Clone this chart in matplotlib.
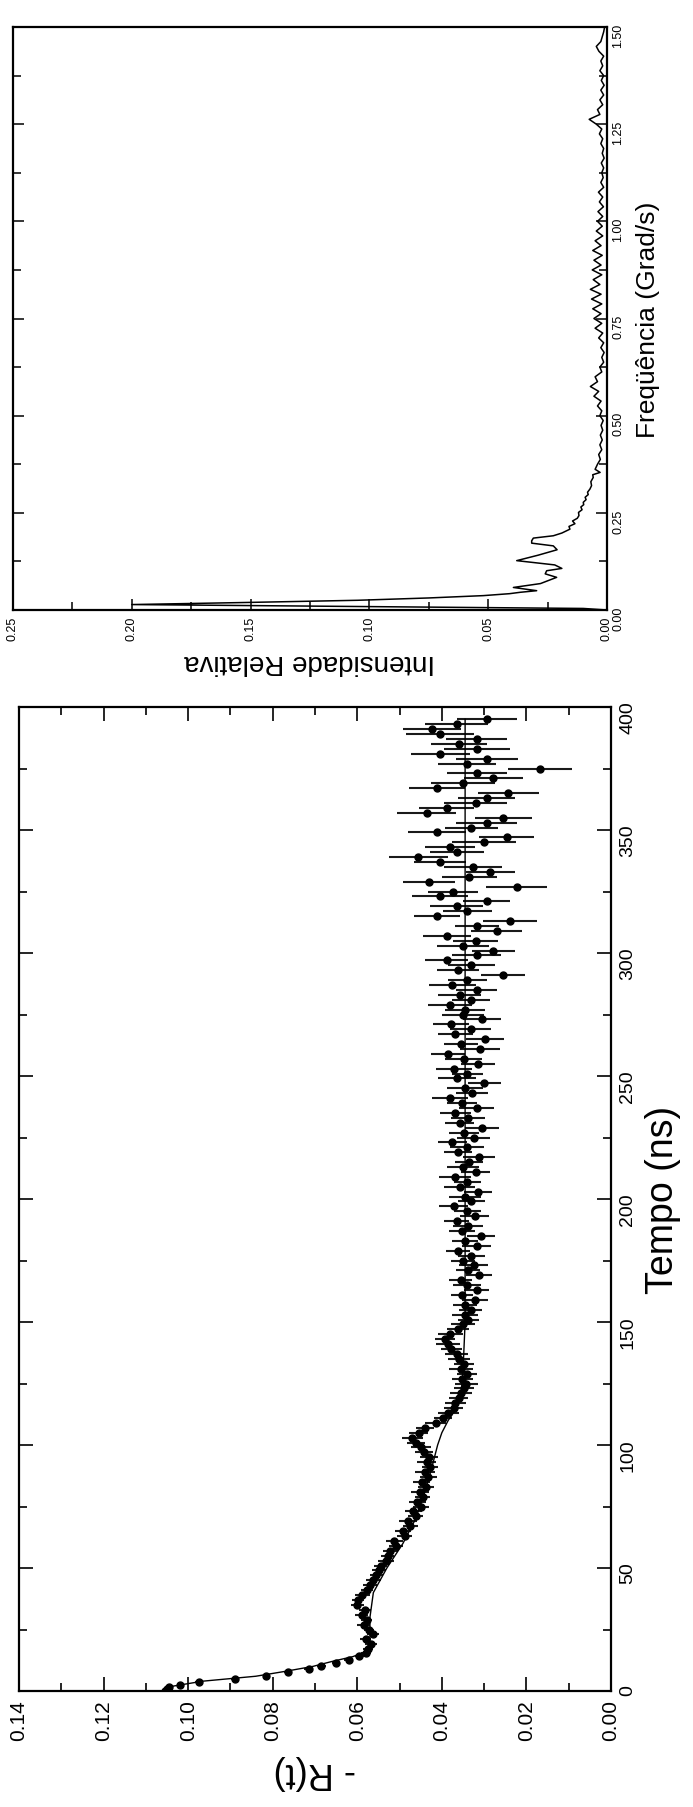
import matplotlib
matplotlib.use('Agg')
from matplotlib import pyplot as plt
from matplotlib.ticker import MultipleLocator, FormatStrFormatter

plt.rcParams['font.family'] = ['Liberation Sans', 'DejaVu Sans']

# espectro (Intensidade Relativa x Frequencia)
freq = [0.0, 0.004, 0.014, 0.019, 0.025, 0.031, 0.037, 0.042, 0.0455, 0.0497,
        0.058, 0.068, 0.084, 0.093, 0.101, 0.107, 0.116, 0.127, 0.141, 0.155,
        0.165, 0.172, 0.178, 0.185, 0.191, 0.198, 0.208, 0.215, 0.222, 0.229,
        0.236, 0.243, 0.251, 0.258, 0.265, 0.271, 0.277, 0.284, 0.290, 0.297,
        0.303, 0.311, 0.320, 0.330, 0.341, 0.348, 0.354, 0.362,
        0.375, 0.3875, 0.400, 0.4125, 0.425, 0.4375, 0.450, 0.4625, 0.475, 0.4875,
        0.500, 0.5125, 0.525, 0.5375, 0.550, 0.5625, 0.575, 0.5875, 0.600, 0.6125,
        0.625, 0.6375, 0.650, 0.6625, 0.675, 0.6875, 0.700, 0.7125, 0.725, 0.7375,
        0.750, 0.7625, 0.775, 0.7875, 0.800, 0.8125, 0.825, 0.8375, 0.850, 0.8625,
        0.875, 0.8875, 0.900, 0.9125, 0.925, 0.9375, 0.950, 0.9625, 0.975, 0.9875,
        1.000, 1.0125, 1.025, 1.0375, 1.050, 1.0625, 1.075, 1.0875, 1.100, 1.1125,
        1.125, 1.1375, 1.150, 1.1625, 1.175, 1.1875, 1.200, 1.2125, 1.225, 1.2375,
        1.250, 1.2625, 1.275, 1.2875, 1.300, 1.3125, 1.325, 1.3375, 1.350, 1.3625,
        1.375, 1.3875, 1.400, 1.4125, 1.425, 1.4375, 1.450, 1.4625, 1.475, 1.4875,
        1.500]
intens = [0.0, 0.010, 0.200, 0.155, 0.105, 0.075, 0.052, 0.041, 0.0366, 0.0296,
          0.0394, 0.028, 0.0212, 0.026, 0.0254, 0.019, 0.022, 0.038, 0.029, 0.021,
          0.0226, 0.0317, 0.0317, 0.031, 0.0226, 0.019, 0.0156, 0.016, 0.0135, 0.0145,
          0.0125, 0.0118, 0.012, 0.0105, 0.011, 0.0098, 0.0100, 0.0088, 0.0092, 0.0079,
          0.0082, 0.0072, 0.0065, 0.0068, 0.0058, 0.0060, 0.0029, 0.0050,
          0.0040, 0.0028, 0.0035, 0.0022, 0.0030, 0.0020, 0.0028, 0.0018, 0.0025, 0.0016,
          0.0030, 0.0022, 0.0040, 0.0025, 0.0055, 0.0035, 0.0070, 0.0040, 0.0050, 0.0022,
          0.0030, 0.0014, 0.0022, 0.0012, 0.0026, 0.0014, 0.0035, 0.0018, 0.0050, 0.0022,
          0.0055, 0.0025, 0.0060, 0.0022, 0.0065, 0.0025, 0.0070, 0.0030, 0.0058, 0.0022,
          0.0062, 0.0025, 0.0055, 0.0020, 0.0060, 0.0025, 0.0050, 0.0018, 0.0045, 0.0020,
          0.0040, 0.0018, 0.0038, 0.0015, 0.0032, 0.0018, 0.0036, 0.0014, 0.0026, 0.0016,
          0.0022, 0.0014, 0.0024, 0.0012, 0.0020, 0.0014, 0.0026, 0.0018, 0.0032, 0.0022,
          0.0045, 0.0075, 0.0030, 0.0040, 0.0018, 0.0030, 0.0014, 0.0026, 0.0012, 0.0024,
          0.0014, 0.0030, 0.0018, 0.0026, 0.0014, 0.0034, 0.0045, 0.0026, 0.0020, 0.0014,
          0.0010]

# - R(t) x Tempo
tempo = [0.0, 0.8, 1.6, 2.6, 3.8, 5.0, 6.3, 7.6, 8.9, 10.2, 11.5, 12.8, 14.1, 15.4,
         17, 19, 21, 23, 25, 27, 29, 31, 33, 35,
         37, 39, 41, 43, 45, 47, 49, 51, 53, 55,
         57, 59, 61, 63, 65, 67, 69, 71, 73, 75,
         77, 79, 81, 83, 85, 87, 89, 91, 93, 95,
         97, 99, 101, 103, 105, 107, 109, 111, 113, 115,
         117, 119, 121, 123, 125, 127, 129, 131, 133, 135,
         137, 139, 141, 143, 145, 147, 149, 151, 153, 155,
         157, 159, 161, 163, 165, 167, 169, 171, 173, 175,
         177, 179, 181, 183, 185, 187, 189, 191, 193, 195,
         197, 199, 201, 203, 205, 207, 209, 211, 213, 215,
         217, 219, 221, 223, 225, 227, 229, 231, 233, 235,
         237, 239, 241, 243, 245, 247, 249, 251, 253, 255,
         257, 259, 261, 263, 265, 267, 269, 271, 273, 275,
         277, 279, 281, 283, 285, 287, 289, 291, 293, 295,
         297, 299, 301, 303, 305, 307, 309, 311, 313, 315,
         317, 319, 321, 323, 325, 327, 329, 331, 333, 335,
         337, 339, 341, 343, 345, 347, 349, 351, 353, 355,
         357, 359, 361, 363, 365, 367, 369, 371, 373, 375,
         377, 379, 381, 383, 385, 387, 389, 391, 393, 395]
menos_r = [0.1055, 0.1050, 0.1045, 0.1020, 0.0975, 0.0890, 0.0815, 0.0765, 0.0715, 0.0685, 0.0650, 0.0620, 0.0595, 0.0580,
           0.0575, 0.0568, 0.0580, 0.0563, 0.0572, 0.0585, 0.0578, 0.0590, 0.0582, 0.0600,
           0.0598, 0.0588, 0.0577, 0.0570, 0.0562, 0.0555, 0.0548, 0.0545, 0.0532, 0.0528,
           0.0522, 0.0508, 0.0512, 0.0488, 0.0492, 0.0475, 0.0480, 0.0462, 0.0468, 0.0450,
           0.0458, 0.0445, 0.0452, 0.0438, 0.0448, 0.0432, 0.0440, 0.0428, 0.0436, 0.0430,
           0.0442, 0.0450, 0.0462, 0.0470, 0.0455, 0.0440, 0.0415, 0.0398, 0.0385, 0.0372,
           0.0368, 0.0360, 0.0355, 0.0348, 0.0342, 0.0352, 0.0340, 0.0355, 0.0348, 0.0360,
           0.0365, 0.0378, 0.0385, 0.0392, 0.0380, 0.0362, 0.0350, 0.0338, 0.0345, 0.0332,
           0.0345, 0.0322, 0.0352, 0.0318, 0.0340, 0.0355, 0.0312, 0.0338, 0.0325, 0.0350,
           0.0330, 0.0362, 0.0318, 0.0345, 0.0308, 0.0352, 0.0338, 0.0365, 0.0322, 0.0340,
           0.0372, 0.0330, 0.0345, 0.0315, 0.0358, 0.0340, 0.0368, 0.0320, 0.0350, 0.0335,
           0.0312, 0.0362, 0.0340, 0.0375, 0.0325, 0.0348, 0.0305, 0.0358, 0.0338, 0.0368,
           0.0318, 0.0352, 0.0380, 0.0328, 0.0345, 0.0300, 0.0365, 0.0340, 0.0372, 0.0315,
           0.0348, 0.0385, 0.0310, 0.0355, 0.0298, 0.0368, 0.0332, 0.0378, 0.0305, 0.0350,
           0.0345, 0.0380, 0.0332, 0.0358, 0.0318, 0.0375, 0.0340, 0.0255, 0.0362, 0.0330,
           0.0388, 0.0318, 0.0278, 0.0350, 0.0320, 0.0388, 0.0270, 0.0318, 0.0239, 0.0412,
           0.0340, 0.0365, 0.0294, 0.0404, 0.0373, 0.0223, 0.0430, 0.0335, 0.0286, 0.0326,
           0.0404, 0.0456, 0.0365, 0.0381, 0.0300, 0.0247, 0.0412, 0.0330, 0.0294, 0.0255,
           0.0436, 0.0388, 0.0320, 0.0294, 0.0243, 0.0412, 0.0350, 0.0278, 0.0318, 0.0168,
           0.0340, 0.0294, 0.0404, 0.0318, 0.0360, 0.0318, 0.0404, 0.0424, 0.0365, 0.0294]
erro_r = [0.0006, 0.0006, 0.0006, 0.0007, 0.0008, 0.0008, 0.0009, 0.0009, 0.0010, 0.0010, 0.0010, 0.0011, 0.0011, 0.0012,
          0.0012, 0.0014, 0.0013, 0.0015, 0.0012, 0.0016, 0.0013, 0.0015, 0.0014, 0.0016,
          0.0015, 0.0017, 0.0014, 0.0016, 0.0018, 0.0015, 0.0017, 0.0016, 0.0019, 0.0016,
          0.0018, 0.0016, 0.0020, 0.0017, 0.0019, 0.0018, 0.0021, 0.0017, 0.0020, 0.0019,
          0.0020, 0.0018, 0.0022, 0.0019, 0.0021, 0.0020, 0.0023, 0.0019, 0.0022, 0.0021,
          0.0022, 0.0024, 0.0021, 0.0025, 0.0023, 0.0022, 0.0024, 0.0021, 0.0025, 0.0023,
          0.0024, 0.0022, 0.0026, 0.0023, 0.0027, 0.0025, 0.0024, 0.0028, 0.0023, 0.0026,
          0.0027, 0.0025, 0.0028, 0.0024, 0.0029, 0.0026, 0.0028, 0.0025, 0.0030, 0.0027,
          0.0028, 0.0031, 0.0026, 0.0030, 0.0033, 0.0027, 0.0031, 0.0029, 0.0034, 0.0028,
          0.0032, 0.0029, 0.0035, 0.0030, 0.0033, 0.0031, 0.0036, 0.0030, 0.0034, 0.0032,
          0.0035, 0.0031, 0.0037, 0.0033, 0.0036, 0.0032, 0.0038, 0.0034, 0.0037, 0.0033,
          0.0038, 0.0034, 0.0040, 0.0035, 0.0039, 0.0036, 0.0041, 0.0035, 0.0040, 0.0037,
          0.0041, 0.0036, 0.0043, 0.0038, 0.0042, 0.0039, 0.0045, 0.0037, 0.0043, 0.0040,
          0.0044, 0.0040, 0.0047, 0.0041, 0.0046, 0.0042, 0.0048, 0.0043, 0.0045, 0.0049,
          0.0047, 0.0052, 0.0045, 0.0050, 0.0048, 0.0055, 0.0046, 0.0052, 0.0049, 0.0056,
          0.0051, 0.0058, 0.0050, 0.0062, 0.0053, 0.0057, 0.0060, 0.0052, 0.0064, 0.0055,
          0.0058, 0.0063, 0.0056, 0.0066, 0.0059, 0.0072, 0.0061, 0.0065, 0.0058, 0.0068,
          0.0062, 0.0070, 0.0064, 0.0060, 0.0075, 0.0066, 0.0069, 0.0063, 0.0072, 0.0067,
          0.0070, 0.0065, 0.0074, 0.0068, 0.0072, 0.0066, 0.0076, 0.0069, 0.0071, 0.0076,
          0.0068, 0.0073, 0.0070, 0.0078, 0.0066, 0.0072, 0.0080, 0.0069, 0.0075, 0.0071]

# curva ajustada
tempo_aj = [0, 2, 4, 6, 8, 10, 12, 14, 16, 20, 30, 40, 50, 60, 70, 80, 90, 100,
            105, 110, 115, 120, 130, 150, 200, 250, 300, 350, 395]
menos_r_aj = [0.1055, 0.1035, 0.0965, 0.0840, 0.0770, 0.0705, 0.0660, 0.0610, 0.0580,
              0.0570, 0.0570, 0.0562, 0.0530, 0.0492, 0.0462, 0.0442, 0.0425, 0.0410,
              0.0400, 0.0385, 0.0365, 0.0355, 0.0350, 0.0345, 0.0345, 0.0345, 0.0345,
              0.0345, 0.0345]

W, H = 693, 1808
fig = plt.figure(figsize=(W / 100, H / 100), dpi=100)

# painel de cima: espectro (girado 90 graus)
ax1 = fig.add_axes([13 / W, 1 - 611 / H, (607 - 13) / W, (611 - 28) / H])
ax1.plot(intens, freq, color='k', lw=1.1)
ax1.set_xlim(0.25, 0)
ax1.set_ylim(0, 1.5)
ax1.xaxis.set_major_locator(MultipleLocator(0.05))
ax1.xaxis.set_minor_locator(MultipleLocator(0.025))
ax1.yaxis.set_major_locator(MultipleLocator(0.25))
ax1.yaxis.set_minor_locator(MultipleLocator(0.125))
ax1.xaxis.set_major_formatter(FormatStrFormatter('%.2f'))
ax1.yaxis.set_major_formatter(FormatStrFormatter('%.2f'))
ax1.tick_params(which='both', direction='in', left=True, right=True, top=False, bottom=True,
                labelleft=False, labelright=True, width=1.1)
ax1.tick_params(which='major', length=8, labelsize=9, pad=4)
ax1.tick_params(which='minor', length=6)
for lab in ax1.get_xticklabels() + ax1.get_yticklabels():
    lab.set_rotation(90)
ax1.yaxis.set_label_position('right')
ax1.set_ylabel('Freqüência (Grad/s)', fontsize=19, rotation=90, labelpad=8)
ax1.set_xlabel('Intensidade Relativa', fontsize=20, rotation=180, labelpad=6)
for s in ax1.spines.values():
    s.set_linewidth(1.6)

# painel de baixo: - R(t) x tempo (girado 90 graus)
ax2 = fig.add_axes([19 / W, 1 - 1692 / H, (611 - 19) / W, (1692 - 708) / H])
ax2.errorbar(menos_r, tempo, xerr=erro_r, fmt='o', color='k', ms=5, elinewidth=1.5,
             capsize=0, ecolor='#1a1a1a')
ax2.plot(menos_r_aj, tempo_aj, color='k', lw=1.0)
ax2.set_xlim(0.14, 0)
ax2.set_ylim(0, 400)
ax2.xaxis.set_major_locator(MultipleLocator(0.02))
ax2.xaxis.set_minor_locator(MultipleLocator(0.01))
ax2.yaxis.set_major_locator(MultipleLocator(50))
ax2.yaxis.set_minor_locator(MultipleLocator(25))
ax2.xaxis.set_major_formatter(FormatStrFormatter('%.2f'))
ax2.tick_params(which='both', direction='in', left=True, right=True, top=True, bottom=True,
                labelleft=False, labelright=True, width=1.2)
ax2.tick_params(which='major', length=10, pad=6)
ax2.tick_params(which='minor', length=6)
ax2.tick_params(axis='x', labelsize=15)
ax2.tick_params(axis='y', labelsize=14)
for lab in ax2.get_xticklabels() + ax2.get_yticklabels():
    lab.set_rotation(90)
ax2.yaxis.set_label_position('right')
ax2.set_ylabel('Tempo (ns)', fontsize=27, rotation=90, labelpad=6)
ax2.set_xlabel('- R(t)', fontsize=26, rotation=180, labelpad=10)
for s in ax2.spines.values():
    s.set_linewidth(1.6)

fig.savefig('out.png', dpi=100)
